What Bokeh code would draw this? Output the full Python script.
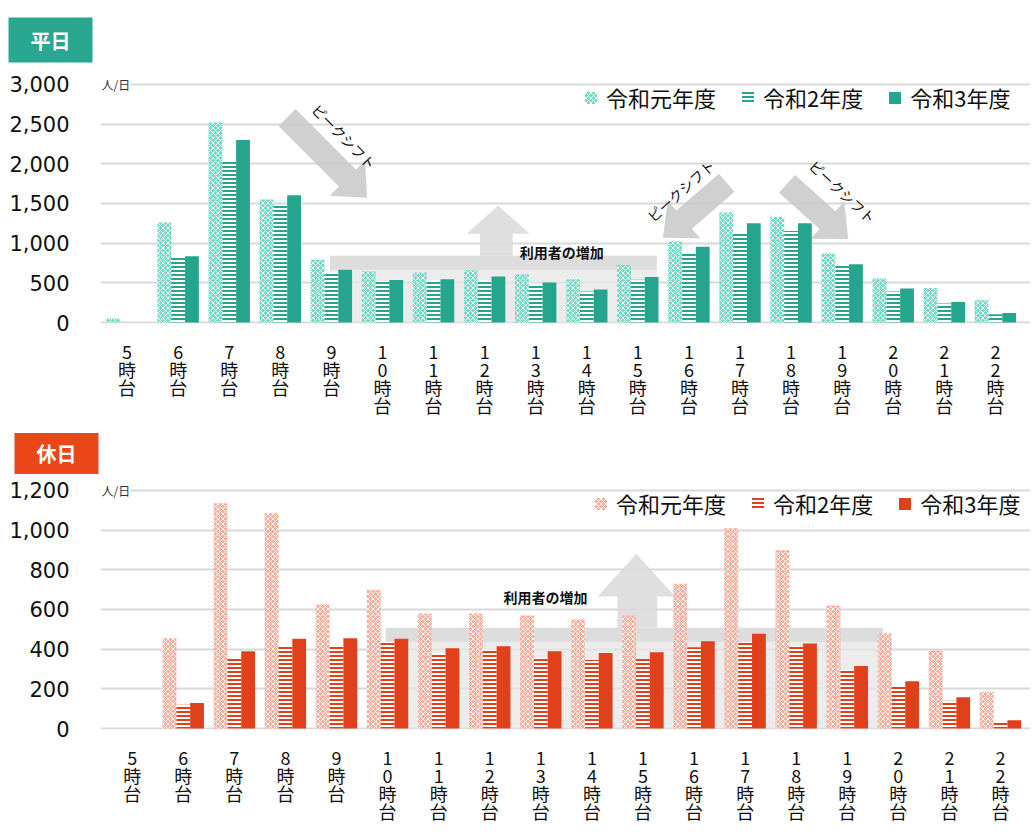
import math
from bokeh.plotting import figure
from bokeh.models import Range1d, FixedTicker, NumeralTickFormatter, Label
from bokeh.layouts import column
from bokeh.embed import file_html
from bokeh.resources import INLINE

# ---------------- data ----------------
categories = ["5時台", "6時台", "7時台", "8時台", "9時台", "10時台", "11時台", "12時台",
              "13時台", "14時台", "15時台", "16時台", "17時台", "18時台", "19時台",
              "20時台", "21時台", "22時台"]
series_names = ["令和元年度", "令和2年度", "令和3年度"]

weekday_r1 = [50, 1260, 2520, 1550, 790, 645, 630, 660, 610, 545, 725, 1020, 1385, 1330, 870, 555, 435, 280]
weekday_r2 = [0, 825, 2040, 1470, 630, 525, 535, 535, 480, 390, 540, 870, 1115, 1155, 715, 390, 240, 105]
weekday_r3 = [0, 835, 2300, 1605, 665, 535, 545, 580, 505, 415, 575, 955, 1250, 1250, 735, 430, 260, 120]

holiday_r1 = [0, 455, 1135, 1085, 625, 700, 580, 580, 570, 550, 570, 730, 1010, 900, 620, 480, 395, 185]
holiday_r2 = [0, 120, 350, 415, 415, 435, 380, 395, 355, 345, 350, 410, 435, 415, 295, 215, 140, 35]
holiday_r3 = [0, 128, 390, 452, 455, 452, 405, 415, 390, 380, 385, 440, 478, 428, 315, 238, 158, 42]

weekday_ticks = [0, 500, 1000, 1500, 2000, 2500, 3000]
holiday_ticks = [0, 200, 400, 600, 800, 1000, 1200]

unit_text = "人/日"
increase_text = "利用者の増加"
shift_text = "ピークシフト"

FONT_JP = "Noto Sans CJK JP"
FONT_NUM = "DejaVu Sans"


def tick_label(cat):
    num = cat.replace("時台", "")
    return "\n".join(list(num) + ["時", "台"])


def make_panel(title, title_color, light, solid, r1, r2, r3, ticks,
               y_start, y_end, sy, x_start, frame_w, border_top,
               title_offset, title_standoff, title_pad, legend_x,
               band, up_arrow, inc_pos, peaks):
    frame_h = int(round((y_end - y_start) * sy))
    x_end = x_start + frame_w / 51.08
    p = figure(frame_width=frame_w, frame_height=frame_h,
               x_range=Range1d(x_start, x_end), y_range=Range1d(y_start, y_end),
               output_backend="svg", toolbar_location=None,
               min_border_left=100, min_border_right=0,
               min_border_top=border_top, min_border_bottom=0,
               title=title)
    p.outline_line_color = None
    p.background_fill_color = "white"
    p.border_fill_color = "white"

    # title box
    p.title.align = "left"
    p.title.offset = title_offset
    p.title.standoff = title_standoff
    p.title.text_font = FONT_JP
    p.title.text_font_size = "20px"
    p.title.text_font_style = "bold"
    p.title.text_color = "white"
    p.title.background_fill_color = title_color
    p.title.padding = (22, title_pad)

    sx = frame_w / (x_end - x_start)
    sy = frame_h / (y_end - y_start)

    # axes
    p.xaxis.ticker = FixedTicker(ticks=list(range(len(categories))))
    p.xaxis.major_label_overrides = {i: tick_label(c) for i, c in enumerate(categories)}
    p.xaxis.major_label_text_font = FONT_JP
    p.xaxis.major_label_text_font_size = "18px"
    p.xaxis.major_label_text_line_height = 0.70
    p.xaxis.major_label_text_color = "#111111"
    p.xaxis.major_label_standoff = 8
    p.xaxis.axis_line_color = None
    p.xaxis.major_tick_line_color = None
    p.xaxis.minor_tick_line_color = None

    p.yaxis.ticker = FixedTicker(ticks=ticks)
    p.yaxis.formatter = NumeralTickFormatter(format="0,0")
    p.yaxis.major_label_text_font = FONT_NUM
    p.yaxis.major_label_text_font_size = "21px"
    p.yaxis.major_label_text_color = "#111111"
    p.yaxis.major_label_standoff = 25
    p.yaxis.axis_line_color = None
    p.yaxis.major_tick_line_color = None
    p.yaxis.minor_tick_line_color = None

    p.xgrid.grid_line_color = None
    p.ygrid.ticker = FixedTicker(ticks=ticks)
    p.ygrid.grid_line_color = "#d9d9d9"
    p.ygrid.grid_line_width = 2

    # "increase of users" band and up arrow
    bx0, bx1, btop = band
    p.quad(left=[bx0], right=[bx1], bottom=[0], top=[btop],
           fill_color="#e6e6e6", fill_alpha=0.75, line_color=None)
    p.quad(left=[bx0], right=[bx1], bottom=[btop - 14 / sy], top=[btop],
           fill_color="#d9d9d9", fill_alpha=0.8, line_color=None)
    sx0, sx1, hx0, hx1, hbase, htip = up_arrow
    hc = (hx0 + hx1) / 2
    p.patch(x=[sx0, sx0, hx0, hc, hx1, sx1, sx1],
            y=[btop, hbase, hbase, htip, hbase, hbase, btop],
            fill_color="#d9d9d9", fill_alpha=0.85, line_color=None)
    p.add_layout(Label(x=inc_pos[0], y=inc_pos[1], text=increase_text,
                       text_font=FONT_JP, text_font_size="14px",
                       text_font_style="bold", text_color="#111111",
                       text_align="left", text_baseline="middle"))

    # peak shift arrows
    for (x0, y0, x1, y1, tx, ty, ang) in peaks:
        X0, Y0, X1, Y1 = x0 * sx, y0 * sy, x1 * sx, y1 * sy
        L = math.hypot(X1 - X0, Y1 - Y0)
        dx, dy = (X1 - X0) / L, (Y1 - Y0) / L
        nx, ny = -dy, dx
        w, hw, hl = 12, 25, 28
        bX, bY = X1 - dx * hl, Y1 - dy * hl
        pts = [(X0 + nx * w, Y0 + ny * w), (bX + nx * w, bY + ny * w),
               (bX + nx * hw, bY + ny * hw), (X1, Y1),
               (bX - nx * hw, bY - ny * hw), (bX - nx * w, bY - ny * w),
               (X0 - nx * w, Y0 - ny * w)]
        p.patch(x=[a / sx for a, b in pts], y=[b / sy for a, b in pts],
                fill_color="#c8c8c8", fill_alpha=0.85, line_color=None)
        p.add_layout(Label(x=tx, y=ty, text=shift_text, angle=ang,
                           text_font=FONT_JP, text_font_size="14px",
                           text_color="#111111", text_align="center",
                           text_baseline="middle"))

    # bars
    idx = list(range(len(categories)))
    bw = 0.27
    p.vbar(x=[i - bw for i in idx], top=r1, width=bw, bottom=0,
           fill_color=light, line_color=None,
           hatch_pattern="diagonal_cross", hatch_color="white",
           hatch_scale=5, hatch_weight=1.0, hatch_alpha=0.9,
           legend_label=series_names[0])
    p.vbar(x=idx, top=r2, width=bw, bottom=0,
           fill_color="white", line_color=None,
           hatch_pattern="horizontal_line", hatch_color=solid,
           hatch_scale=4, hatch_weight=2,
           legend_label=series_names[1])
    p.vbar(x=[i + bw for i in idx], top=r3, width=bw, bottom=0,
           fill_color=solid, line_color=None,
           legend_label=series_names[2])

    # unit label
    p.add_layout(Label(x=1, x_units="screen", y=ticks[-1], text=unit_text,
                       text_font=FONT_JP, text_font_size="12px",
                       text_color="#333333", text_align="left",
                       text_baseline="middle", background_fill_color="white"))

    lg = p.legend[0]
    lg.location = (legend_x, frame_h - 37)
    lg.orientation = "horizontal"
    lg.label_text_font = FONT_JP
    lg.label_text_font_size = "22px"
    lg.label_text_color = "#111111"
    lg.glyph_width = 15
    lg.glyph_height = 15
    lg.label_standoff = 8
    lg.spacing = 24
    lg.padding = 0
    lg.margin = 0
    lg.border_line_color = None
    lg.background_fill_alpha = 0
    return p


top = make_panel("平日", "#2aa791", "#74dac5", "#26a58e",
                 weekday_r1, weekday_r2, weekday_r3, weekday_ticks,
                 -12, 3100, 0.079233, -0.52, 930, 76,
                 -92, 28, 8, 483,
                 band=(3.97, 10.37, 842),
                 up_arrow=(6.91, 7.55, 6.65, 7.88, 1120, 1474),
                 inc_pos=(7.69, 893),
                 peaks=[(3.13, 2584, 4.70, 1571, 4.25, 2343, -0.80),
                        (11.74, 1761, 10.49, 1067, 10.84, 1662, 0.73),
                        (12.92, 1748, 14.12, 1054, 14.01, 1647, -0.75)])

bottom = make_panel("休日", "#ea4619", "#f6ae9d", "#e0401a",
                    holiday_r1, holiday_r2, holiday_r3, holiday_ticks,
                    -5, 1240, 0.19858, -0.62, 930, 61,
                    -86, 17, 6, 493,
                    band=(4.96, 14.7, 508),
                    up_arrow=(9.5, 10.28, 9.11, 10.63, 665, 881),
                    inc_pos=(7.27, 665),
                    peaks=[])

layout = column(top, bottom, spacing=0)
open("out.html", "w").write(file_html(layout, INLINE))
